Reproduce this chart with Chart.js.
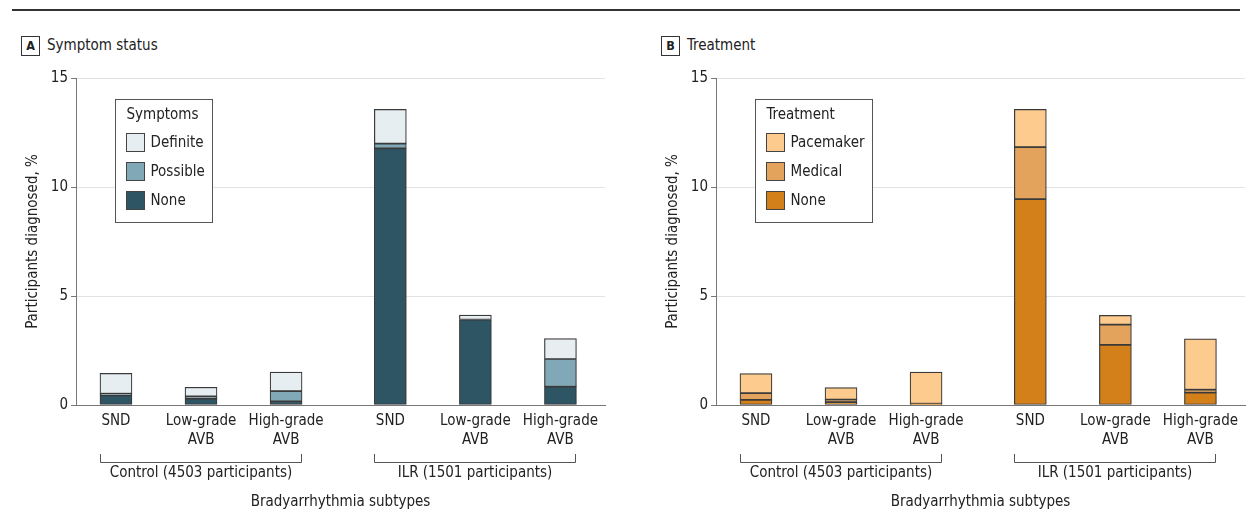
<!DOCTYPE html>
<html>
<head>
<meta charset="utf-8">
<script src="https://cdn.jsdelivr.net/npm/chart.js@4/dist/chart.umd.min.js"></script>
<style>
  html, body { margin: 0; padding: 0; background: #fff; }
  body { width: 1252px; height: 510px; position: relative; overflow: hidden;
         font-family: 'DejaVu Sans Condensed', 'DejaVu Sans', sans-serif; color: #222; }
  .rule { position: absolute; left: 12px; right: 12px; top: 9px; height: 2px; background: #333; }
  .panel { position: absolute; top: 0; height: 510px; }
  .panel canvas { position: absolute; left: 0; top: 0; }
  .tag { position: absolute; top: 36px; width: 17px; height: 18px; border: 1px solid #333;
         font-size: 12.5px; font-weight: bold; line-height: 18px; text-align: center; }
  .ptitle { position: absolute; top: 35px; font-size: 15px; line-height: 20px; }
</style>
</head>
<body>
<div class="rule"></div>
<div class="panel" id="panelA" style="left:0;width:626px;">
  <div class="tag" style="left:21px;">A</div>
  <div class="ptitle" style="left:47px;">Symptom status</div>
  <canvas id="chartA" width="626" height="510"></canvas>
</div>
<div class="panel" id="panelB" style="left:640px;width:612px;">
  <div class="tag" style="left:21px;">B</div>
  <div class="ptitle" style="left:47px;">Treatment</div>
  <canvas id="chartB" width="612" height="510"></canvas>
</div>
<script>
// Categories: bradyarrhythmia subtypes within each study group
const subtypeLabels = [['SND'], ['Low-grade', 'AVB'], ['High-grade', 'AVB'],
                       ['SND'], ['Low-grade', 'AVB'], ['High-grade', 'AVB']];
const groupLabels = ['Control (4503 participants)', 'ILR (1501 participants)'];
const groupSize = 3;
const yTicks = [0, 5, 10, 15];

// Panel A: participants diagnosed (%) by symptom status
const symptomNone     = [0.44, 0.29, 0.17, 11.77, 3.92, 0.84];
const symptomPossible = [0.08, 0.11, 0.47, 0.22, 0.00, 1.27];
const symptomDefinite = [0.93, 0.41, 0.87, 1.57, 0.20, 0.94];

// Panel B: participants diagnosed (%) by treatment
const treatNone      = [0.24, 0.13, 0.04, 9.44, 2.76, 0.57];
const treatMedical   = [0.30, 0.12, 0.02, 2.39, 0.93, 0.13];
const treatPacemaker = [0.90, 0.55, 1.45, 1.73, 0.42, 2.33];

const FONT_FAMILY = "'DejaVu Sans Condensed', 'DejaVu Sans', sans-serif";
const FONT_SIZE = 15;
const TEXT = '#222';
const BAR_W = 32;
const GROUP_GAP = 0.226;   // extra space between the two study groups, in category units

Chart.defaults.font.family = FONT_FAMILY;
Chart.defaults.font.size = FONT_SIZE;
Chart.defaults.color = TEXT;

// x position of each category on the linear axis (groups separated by a gap)
const catPos = subtypeLabels.map((_, i) => i + Math.floor(i / groupSize) * GROUP_GAP);

function series(values) {
  return values.map((v, i) => ({ x: catPos[i], y: v }));
}

// Boxed legend drawn inside the plot area, top series listed first
const boxLegend = {
  id: 'boxLegend',
  afterDatasetsDraw(chart, args, opts) {
    const ctx = chart.ctx;
    const area = chart.chartArea;
    const items = chart.data.datasets.slice().reverse();
    ctx.save();
    ctx.font = FONT_SIZE + 'px ' + FONT_FAMILY;
    const itemW = Math.max(...items.map(d => ctx.measureText(d.label).width));
    const titleW = ctx.measureText(opts.title).width;
    const x = Math.round(area.left + 39) + 0.5;
    const y = 99.5;
    const w = Math.round(Math.max(11 + titleW, 35 + itemW) + 8);
    const h = 123;
    ctx.fillStyle = '#fff';
    ctx.fillRect(x, y, w, h);
    ctx.strokeStyle = '#555';
    ctx.lineWidth = 1;
    ctx.strokeRect(x, y, w, h);
    ctx.fillStyle = TEXT;
    ctx.textBaseline = 'middle';
    ctx.textAlign = 'left';
    ctx.fillText(opts.title, x + 11, y + 16);
    items.forEach((d, i) => {
      const cy = y + 43 + i * 29;
      ctx.fillStyle = d.backgroundColor;
      ctx.fillRect(x + 11, cy - 9, 18, 18);
      ctx.strokeStyle = '#444';
      ctx.lineWidth = 1;
      ctx.strokeRect(x + 11, cy - 9, 18, 18);
      ctx.fillStyle = TEXT;
      ctx.fillText(d.label, x + 35, cy + 1);
    });
    ctx.restore();
  }
};

// Brackets under the category labels naming each study group
const groupBrackets = {
  id: 'groupBrackets',
  afterDraw(chart) {
    const ctx = chart.ctx;
    const xs = chart.scales.x;
    ctx.save();
    ctx.strokeStyle = '#555';
    ctx.lineWidth = 1;
    ctx.fillStyle = TEXT;
    ctx.font = FONT_SIZE + 'px ' + FONT_FAMILY;
    ctx.textAlign = 'center';
    ctx.textBaseline = 'middle';
    groupLabels.forEach((label, g) => {
      const first = catPos[g * groupSize];
      const last = catPos[g * groupSize + groupSize - 1];
      const l = Math.round(xs.getPixelForValue(first) - BAR_W / 2) + 0.5;
      const r = Math.round(xs.getPixelForValue(last) + BAR_W / 2) - 0.5;
      ctx.beginPath();
      ctx.moveTo(l, 454);
      ctx.lineTo(l, 462.5);
      ctx.lineTo(r, 462.5);
      ctx.lineTo(r, 454);
      ctx.stroke();
      ctx.fillText(label, (l + r) / 2, 473);
    });
    ctx.restore();
  }
};

function makeChart(canvasId, datasets, legendTitle, rightPad) {
  return new Chart(document.getElementById(canvasId), {
    type: 'bar',
    data: { datasets },
    options: {
      responsive: false,
      animation: false,
      layout: { padding: { left: 0, top: 78, right: rightPad, bottom: 0 } },
      datasets: {
        bar: { barThickness: BAR_W, borderColor: '#3a3a3a', borderWidth: 1.2, borderSkipped: false }
      },
      plugins: {
        legend: { display: false },
        tooltip: { enabled: false },
        boxLegend: { title: legendTitle }
      },
      scales: {
        x: {
          type: 'linear',
          stacked: true,
          offset: false,
          min: -0.47,
          max: 5.75,
          grid: { display: false, drawTicks: false, offset: false },
          border: { display: true, color: '#777', width: 1 },
          afterBuildTicks(scale) { scale.ticks = catPos.map(v => ({ value: v })); },
          afterFit(scale) { scale.height = 105; },
          ticks: {
            autoSkip: false,
            maxRotation: 0,
            padding: 7,
            color: TEXT,
            font: { size: FONT_SIZE, lineHeight: 1.27 },
            callback: (value, index) => subtypeLabels[index]
          },
          title: {
            display: true,
            text: 'Bradyarrhythmia subtypes',
            color: TEXT,
            font: { size: FONT_SIZE, lineHeight: 1.0 },
            padding: { top: 0, bottom: 0 }
          }
        },
        y: {
          stacked: true,
          min: 0,
          max: 15,
          afterBuildTicks(scale) { scale.ticks = yTicks.map(v => ({ value: v })); },
          afterFit(scale) { scale.width = 76; },
          grid: {
            color: ctx => ctx.tick && ctx.tick.value === 0 ? '#777' : '#e2e2e2',
            tickColor: '#777',
            tickLength: 5,
            lineWidth: 1
          },
          border: { display: true, color: '#777', width: 1 },
          ticks: { padding: 3, color: TEXT, font: { size: FONT_SIZE } },
          title: {
            display: true,
            text: 'Participants diagnosed, %',
            color: TEXT,
            font: { size: FONT_SIZE },
            padding: { top: 24, bottom: 0 }
          }
        }
      }
    },
    plugins: [boxLegend, groupBrackets]
  });
}

makeChart('chartA', [
  { label: 'None',     data: series(symptomNone),     backgroundColor: '#2e5564' },
  { label: 'Possible', data: series(symptomPossible), backgroundColor: '#80a8b6' },
  { label: 'Definite', data: series(symptomDefinite), backgroundColor: '#e6eef2' }
], 'Symptoms', 21);

makeChart('chartB', [
  { label: 'None',      data: series(treatNone),      backgroundColor: '#d4801a' },
  { label: 'Medical',   data: series(treatMedical),   backgroundColor: '#e3a35c' },
  { label: 'Pacemaker', data: series(treatPacemaker), backgroundColor: '#fdcb8e' }
], 'Treatment', 7);
</script>
</body>
</html>
